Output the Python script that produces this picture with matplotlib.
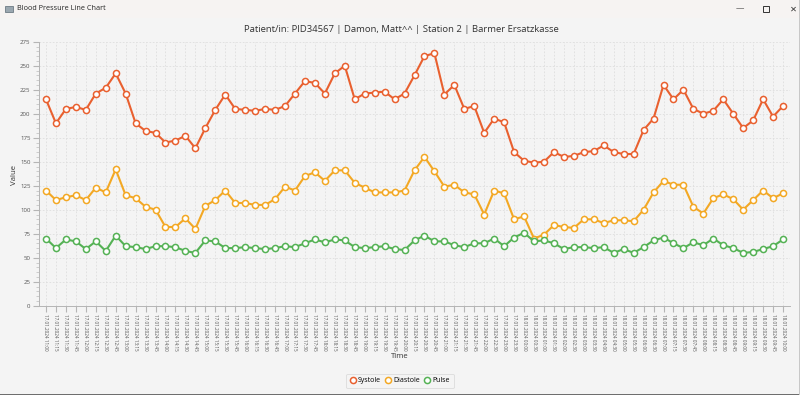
import matplotlib
matplotlib.use("Agg")
import matplotlib.pyplot as plt
from matplotlib.patches import Rectangle
from matplotlib.ticker import MultipleLocator

plt.rcParams["font.family"] = ["Open Sans", "DejaVu Sans"]

# readings, 17.01.2024 11:00 - 18.01.2024 10:00
times_day1 = [
    "11:00", "11:15", "11:30", "11:45", "12:00", "12:15", "12:30", "12:45",
    "13:00", "13:15", "13:30", "13:45", "14:00", "14:15", "14:30", "14:45",
    "15:00", "15:15", "15:30", "15:45", "16:00", "16:15", "16:30", "16:45",
    "17:00", "17:15", "17:30", "17:45", "18:00", "18:15", "18:30", "18:45",
    "19:00", "19:15", "19:30", "19:45", "20:00", "20:15", "20:30", "20:45",
    "21:00", "21:15", "21:30", "21:45", "22:00", "22:30", "23:00", "23:30",
]
times_day2 = [
    "00:00", "00:30", "01:00", "01:30", "02:00", "02:30", "03:00", "03:30",
    "04:00", "04:30", "05:00", "05:30", "06:00", "06:30", "07:00", "07:15",
    "07:30", "07:45", "08:00", "08:15", "08:30", "08:45", "09:00", "09:15",
    "09:30", "09:45", "10:00",
]
labels = ["17.01.2024 " + t for t in times_day1] + ["18.01.2024 " + t for t in times_day2]

systole = [
    215, 190, 205, 207, 204, 221, 227, 242, 221, 190, 182, 180, 170, 172, 177, 164,
    185, 204, 220, 205, 204, 203, 205, 204, 208, 221, 234, 232, 221, 242, 250, 215,
    221, 222, 223, 215, 221, 240, 260, 263, 220, 230, 205, 208, 180, 195, 191, 160,
    151, 149, 150, 160, 155, 156, 160, 161, 167, 160, 158, 158, 183, 195, 230, 215,
    225, 205, 200, 203, 215, 200, 185, 193, 215, 197, 208,
]
diastole = [
    120, 110, 113, 115, 110, 123, 118, 142, 115, 112, 103, 100, 82, 82, 91, 80,
    104, 110, 120, 107, 107, 105, 105, 111, 124, 120, 135, 139, 130, 141, 141, 128,
    123, 118, 118, 118, 120, 141, 155, 140, 124, 126, 118, 116, 95, 120, 117, 90,
    93, 70, 74, 84, 82, 81, 90, 90, 86, 89, 89, 88, 100, 118, 130, 126,
    126, 103, 96, 112, 116, 111, 100, 110, 120, 112, 117,
]
pulse = [
    70, 60, 69, 67, 59, 67, 57, 73, 62, 61, 59, 62, 62, 61, 57, 55,
    68, 67, 60, 60, 61, 60, 59, 60, 62, 61, 65, 69, 66, 69, 68, 61,
    60, 61, 62, 59, 58, 68, 73, 67, 67, 63, 61, 65, 65, 70, 62, 71,
    76, 67, 68, 65, 59, 61, 61, 60, 61, 55, 59, 55, 61, 68, 71, 65,
    60, 66, 63, 70, 63, 60, 55, 56, 59, 62, 69,
]

series_names = ["Systole", "Diastole", "Pulse"]
series_colors = ["#e9602f", "#f3a824", "#55b255"]

W, H = 800, 395
fig = plt.figure(figsize=(W / 100, H / 100), dpi=100)
fig.patch.set_facecolor("#f4f4f4")

# window chrome
fig.patches.append(Rectangle((0, 1 - 18 / H), 1, 18 / H, transform=fig.transFigure,
                             facecolor="#f6f3f2", edgecolor="none", zorder=0))
fig.patches.append(Rectangle((5 / W, 1 - 12 / H), 8 / W, 6 / H, transform=fig.transFigure,
                             facecolor="#9aa7b0", edgecolor="#5a6a75", lw=0.5, zorder=1))
fig.text(17 / W, 1 - 9 / H, "Blood Pressure Line Chart", fontsize=5.2, va="center",
         color="#222222")
fig.text(740 / W, 1 - 9 / H, "\u2014", fontsize=6, va="center", ha="center", color="#333333")
fig.patches.append(Rectangle((763 / W, 1 - 12 / H), 6 / W, 6 / H, transform=fig.transFigure,
                             facecolor="none", edgecolor="#333333", lw=0.7, zorder=1))
fig.text(793 / W, 1 - 9 / H, "\u2715", fontsize=6, va="center", ha="center",
         color="#333333", family=["DejaVu Sans"])
# window border
fig.patches.append(Rectangle((0, 0), 1, 1.5 / H, transform=fig.transFigure,
                             facecolor="#6e6e6e", edgecolor="none", zorder=1))
fig.patches.append(Rectangle((1 - 1.5 / W, 0), 1.5 / W, 1, transform=fig.transFigure,
                             facecolor="#c8c8c8", edgecolor="none", zorder=1))

fig.text(401 / W, 1 - 29 / H,
         "Patient/in: PID34567 | Damon, Matt^^ | Station 2 | Barmer Ersatzkasse",
         ha="center", va="center", fontsize=6.8, color="#333333")

left, right, top, bottom = 39, 790, 41.7, 305.7
ax = fig.add_axes([left / W, 1 - bottom / H, (right - left) / W, (bottom - top) / H])
ax.set_facecolor("#f4f4f4")

x = list(range(len(labels)))
for vals, name, col in zip([systole, diastole, pulse], series_names, series_colors):
    ax.plot(x, vals, color=col, lw=1.5, marker="o", markersize=4.4,
            markerfacecolor="white", markeredgecolor=col, markeredgewidth=1.1,
            label=name, zorder=3)

ax.set_xlim(-0.7, len(labels) - 0.3)
ax.set_ylim(0, 275)
ax.set_xticks(x)
ax.set_xticklabels(labels, rotation=-90, fontsize=3.3, color="#555555")
ax.yaxis.set_major_locator(MultipleLocator(25))
ax.yaxis.set_minor_locator(MultipleLocator(5))
ax.tick_params(axis="y", which="major", labelsize=4.4, labelcolor="#555555",
               length=4, color="#b5b5b5", pad=2)
ax.tick_params(axis="y", which="minor", length=2, color="#c5c5c5")
ax.tick_params(axis="x", length=4, color="#b5b5b5", pad=2)

ax.grid(axis="x", which="major", color="#dedede", lw=0.6, ls=(0, (2, 2)))
ax.grid(axis="y", which="major", color="#dedede", lw=0.6, ls=(0, (2, 2)))
ax.set_axisbelow(True)
for s in ["top", "right"]:
    ax.spines[s].set_visible(False)
ax.spines["left"].set_color("#b5b5b5")
ax.spines["bottom"].set_color("#b5b5b5")
ax.spines["left"].set_linewidth(0.7)
ax.spines["bottom"].set_linewidth(0.7)

fig.text(14 / W, 1 - 175 / H, "Value", rotation=90, ha="center", va="center",
         fontsize=5.6, color="#333333")
fig.text(400 / W, 1 - 357 / H, "Time", ha="center", va="center",
         fontsize=5.6, color="#333333")

leg = fig.legend(loc="center", bbox_to_anchor=(400 / W, 1 - 381 / H), ncol=3,
                 fontsize=5.0, frameon=True, fancybox=True, handlelength=0.8,
                 handletextpad=0.4, columnspacing=0.6, borderpad=0.5)
for h in leg.legend_handles:
    h.set_linestyle("none")
    h.set_markersize(4.4)
leg.get_frame().set_facecolor("#f4f4f4")
leg.get_frame().set_edgecolor("#d5d5d5")
leg.get_frame().set_linewidth(0.6)

fig.savefig("out.png", dpi=100, facecolor=fig.get_facecolor())
